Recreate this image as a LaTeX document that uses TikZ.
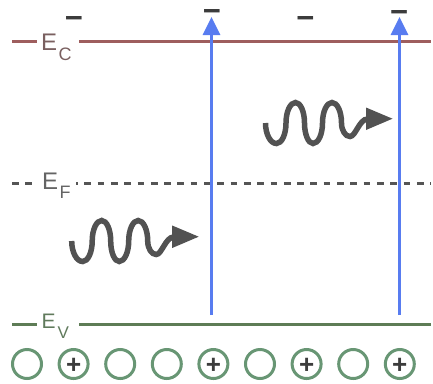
\documentclass[tikz,border=0pt]{standalone}
\usepackage{fontspec}
\setmainfont{Liberation Sans}
\usetikzlibrary{arrows.meta}
\definecolor{ecline}{RGB}{158,94,94}
\definecolor{eclab}{RGB}{122,96,96}
\definecolor{efline}{RGB}{85,85,85}
\definecolor{eflab}{RGB}{100,100,100}
\definecolor{evline}{RGB}{94,124,86}
\definecolor{evlab}{RGB}{96,122,92}
\definecolor{holecol}{RGB}{104,150,116}
\definecolor{arrowblue}{RGB}{88,124,240}
\definecolor{wavegray}{RGB}{82,82,82}
\definecolor{chargegray}{RGB}{60,60,60}
\begin{document}
\begin{tikzpicture}[x=1pt,y=-1pt,
  level/.style={line width=3pt},
  lab/.style={inner sep=0pt, anchor=base west},
  excite/.style={draw=arrowblue, line width=3pt, -{Triangle[length=18pt,width=17pt]}},
  photon/.style={draw=wavegray, line width=5.5pt},
  photontip/.style={fill=wavegray},
  hole/.style={circle, draw=holecol, line width=3pt, minimum size=29pt, inner sep=0pt},
  plussign/.style={inner sep=0pt, anchor=base, text=chargegray, text height=14pt, text depth=0pt, font=\fontsize{26}{26}\bfseries\selectfont},
  minussign/.style={inner sep=0pt, anchor=base, text=chargegray, text height=11pt, text depth=0pt, font=\fontsize{31}{31}\bfseries\selectfont}]
\useasboundingbox (0,0) rectangle (433,383);

% level labels
\node[lab, text=eclab] (ec) at (41,50) {\fontsize{24}{24}\selectfont E\kern1.5pt\raisebox{-10.5pt}{\fontsize{18}{18}\selectfont C}};
\node[lab, text=eflab] (ef) at (42,189) {\fontsize{24}{24}\selectfont E\kern1.5pt\raisebox{-9.5pt}{\fontsize{18}{18}\selectfont F}};
\node[lab, text=evlab] (ev) at (41.5,328) {\fontsize{21}{21}\selectfont E\kern2pt\raisebox{-10pt}{\fontsize{17}{17}\selectfont V}};

% level line end points
\coordinate (ec0) at (12,41);  \coordinate (ec1) at (37,41);
\coordinate (ec2) at (79,41);  \coordinate (ec3) at (431,41);
\coordinate (ef0) at (12,183); \coordinate (ef1) at (33,183);
\coordinate (ef2) at (76,183); \coordinate (ef3) at (431,183);
\coordinate (ev0) at (12,324); \coordinate (ev1) at (37,324);
\coordinate (ev2) at (79,324); \coordinate (ev3) at (431,324);

\draw[level, ecline] (ec0) -- (ec1);
\draw[level, ecline] (ec2) -- (ec3);
\draw[level, efline, dash pattern=on 6.7pt off 6.6pt] (ef0) -- (ef1);
\draw[level, efline, dash pattern=on 6.7pt off 6.6pt, dash phase=5pt] (ef2) -- (ef3);
\draw[level, evline] (ev0) -- (ev1);
\draw[level, evline] (ev2) -- (ev3);

% photons
\foreach \sx/\sy in {71.7/241, 265.5/123}{
\begin{scope}[shift={(\sx,\sy)}]
  \draw[photon] (0,0)
    .. controls (0,11.3) and (4.93,20.5) .. (11,20.5)
    .. controls (16.24,20.5) and (20.5,11.3) .. (20.5,0)
    .. controls (20.5,-11.3) and (24.76,-20.5) .. (30,-20.5)
    .. controls (34.97,-20.5) and (39,-11.3) .. (39,0)
    .. controls (39,11.3) and (42.81,20.5) .. (47.5,20.5)
    .. controls (52.74,20.5) and (57,11.3) .. (57,0)
    .. controls (57,-11.3) and (61.26,-20.5) .. (66.5,-20.5)
    .. controls (71.74,-20.5) and (76,-11.3) .. (76,0)
    .. controls (76,7.45) and (79.81,13.5) .. (84.5,13.5)
    .. controls (90,13.5) and (94,-4) .. (102,-4);
  \fill[photontip] (100.5,-15.5) -- (127,-4.3) -- (100.5,7) -- cycle;
\end{scope}}

% excitation arrows
\coordinate (a1s) at (211.5,315); \coordinate (a1e) at (211.5,17);
\coordinate (a2s) at (399.5,315); \coordinate (a2e) at (399.5,17);
\draw[excite] (a1s) -- (a1e);
\draw[excite] (a2s) -- (a2e);

% electrons
\node[minussign] (m1) at (74,28.5) {−};
\node[minussign] (m2) at (212,21.2) {−};
\node[minussign] (m3) at (305.3,28.2) {−};
\node[minussign] (m4) at (399.2,22.8) {−};

% holes
\foreach \i/\x in {1/27,2/73.6,3/120.2,4/166.8,5/213.4,6/260,7/306.6,8/353.2,9/399.8}
  \node[hole] (h\i) at (\x,364) {};
\foreach \i in {2,5,7,9}
  \node[plussign] (p\i) at ([yshift=-9.1pt]h\i.center) {+};
\end{tikzpicture}
\end{document}
